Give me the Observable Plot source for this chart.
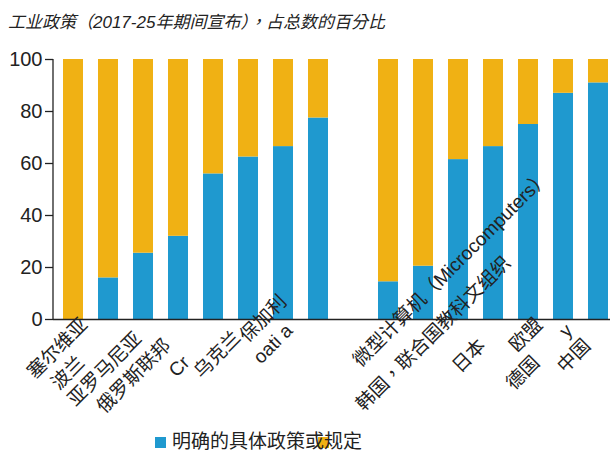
<!DOCTYPE html>
<html><head><meta charset="utf-8">
<script src="https://cdn.jsdelivr.net/npm/d3@7"></script>
<script src="https://cdn.jsdelivr.net/npm/@observablehq/plot@0.6"></script>
<style>
body{margin:0;background:#fff;}
#wrap{position:relative;width:610px;height:454px;overflow:hidden;font-family:"Liberation Sans","Noto Sans CJK TC",sans-serif;color:#222;}
#chart{position:absolute;left:0;top:0;}
#title{position:absolute;left:8px;top:8px;font-size:17px;font-style:italic;white-space:nowrap;}
#legend{position:absolute;left:155px;top:430px;height:24px;font-size:19px;line-height:24px;white-space:nowrap;}
.sw{position:absolute;width:11px;height:11px;top:7px;}
#legend .txt{position:absolute;left:17px;top:0;}
</style></head>
<body>
<div id="wrap">
  <div id="chart"></div>
  <div id="title"></div>
  <div id="legend"></div>
</div>
<script>
// ---- data ----
const titleText = "工业政策（2017-25年期间宣布），占总数的百分比";
const categories = ["A1","A2","A3","A4","A5","A6","A7","A8","gap","B1","B2","B3","B4","B5","B6","B7"];
const barCategories = ["A1","A2","A3","A4","A5","A6","A7","A8","B1","B2","B3","B4","B5","B6","B7"];
const blueValues   = [0, 16, 25.5, 32, 56, 62.5, 66.5, 77.5, 14.5, 20.5, 61.5, 66.5, 75, 87, 91];
const yellowValues = [100, 84, 74.5, 68, 44, 37.5, 33.5, 22.5, 85.5, 79.5, 38.5, 33.5, 25, 13, 9];
const seriesNames = ["明确的具体政策或规定", ""];
const seriesColors = ["#1f99cf", "#f0b114"];
const yTicks = [0, 20, 40, 60, 80, 100];
const labelTexts = ["塞尔维亚","欧盟","oati a","y","亚罗马尼亚","乌克兰","俄罗斯联邦","日本","中国","波兰","Cr","德国","保加利","微型计算机（Microcomputers）","韩国，联合国教科文组织"];
const labelBars  = ["A1","B5","A7","B6","A3","A6","A4","B4","B7","A1","A4","B5","A7","B1","B1"];
const labelRows  = ["A","A","H","H","B","U","C","C","C","D","D","D","E","F","G"];

// ---- chart ----
const rows = [];
barCategories.forEach((c, i) => {
  rows.push({cat: c, series: "s0", value: blueValues[i]});
  rows.push({cat: c, series: "s1", value: yellowValues[i]});
});

const rowStyle = {
  A: {dx: 11, dy: 2, anchor: "end"},
  H: {dx: 6, dy: 8, anchor: "end"},
  B: {dx: -5, dy: 16, anchor: "end"},
  U: {dx: -11, dy: 15, anchor: "end"},
  C: {dx: -11, dy: 23, anchor: "end"},
  D: {dx: 8, dy: 40, anchor: "end"},
  E: {dx: 0, dy: -21, anchor: "end"},
  F: {dx: -32, dy: 44, anchor: "start"},
  G: {dx: -29, dy: 88, anchor: "start"}
};
const labelIdx = labelTexts.map((_, i) => i);
const labelMarks = Object.keys(rowStyle).map(r => Plot.text(labelIdx.filter(i => labelRows[i] === r), {
  x: i => labelBars[i],
  y: () => 0,
  text: i => labelTexts[i],
  rotate: -45,
  textAnchor: rowStyle[r].anchor,
  lineAnchor: "middle",
  dx: rowStyle[r].dx,
  dy: rowStyle[r].dy,
  fontSize: 19,
  fill: "#222"
}));

const mL = 53, mT = 59, H = 454, mB = 135;
const plot = Plot.plot({
  width: 610,
  height: H,
  marginLeft: mL,
  marginRight: 0,
  marginTop: mT,
  marginBottom: mB,
  style: {fontFamily: '"Liberation Sans","Noto Sans CJK TC",sans-serif', fontSize: "19px", color: "#222", background: "transparent"},
  x: {type: "band", domain: categories, paddingInner: 0.43, paddingOuter: 0.17, align: 0.83, axis: null},
  y: {domain: [0, 100], axis: null},
  color: {domain: ["s0", "s1"], range: seriesColors},
  marks: [
    Plot.barY(rows, {x: "cat", y: "value", fill: "series"}),
    Plot.axisY({ticks: yTicks, tickSize: 8, tickPadding: 3, fontSize: 20, label: null, stroke: "#222", strokeWidth: 1.3}),
    Plot.ruleY([0], {stroke: "#222", strokeWidth: 1.6}),
    ...labelMarks
  ]
});
document.getElementById("chart").appendChild(plot);

// y-axis line from the library's y scale
const ys = plot.scale("y");
d3.select(plot).append("line")
  .attr("x1", mL).attr("x2", mL)
  .attr("y1", ys.apply(0)).attr("y2", ys.apply(100))
  .attr("stroke", "#222").attr("stroke-width", 1.3);

// title
document.getElementById("title").textContent = titleText;

// legend
const lg = d3.select("#legend");
lg.append("div").attr("class", "sw").style("left", "0px").style("background", seriesColors[0]);
lg.append("div").attr("class", "sw").style("left", "163px").style("background", seriesColors[1]);
lg.append("div").attr("class", "txt").text(seriesNames[0]);
</script>
</body></html>
